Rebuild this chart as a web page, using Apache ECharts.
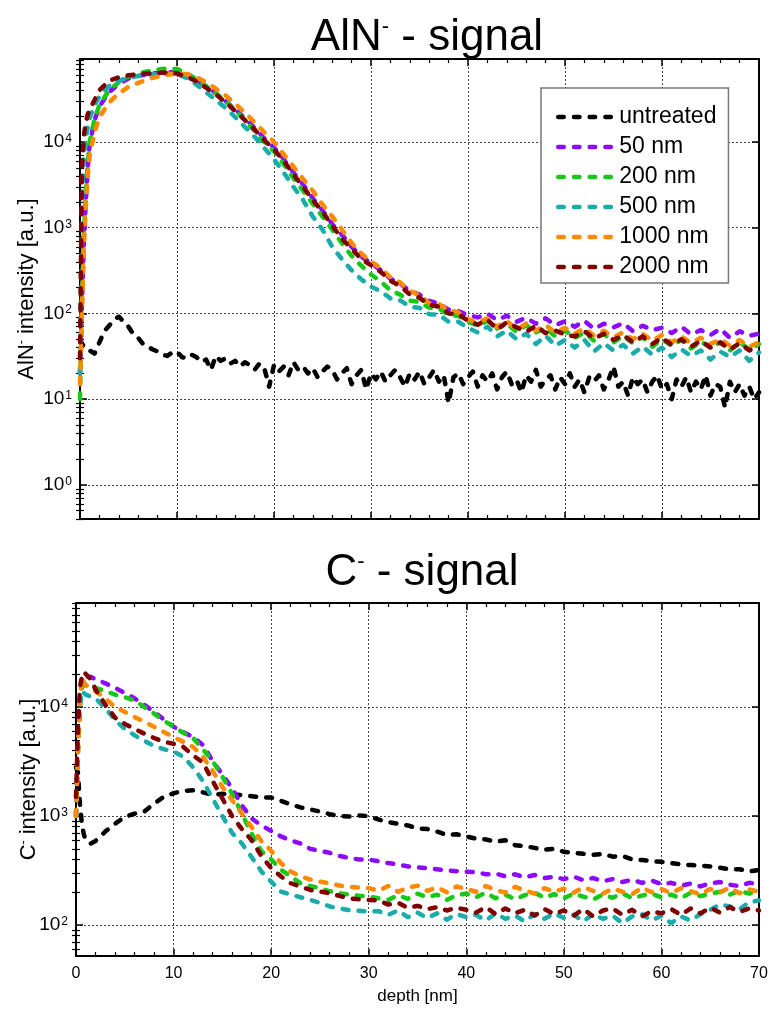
<!DOCTYPE html>
<html><head><meta charset="utf-8">
<script src="https://cdn.jsdelivr.net/npm/echarts@6/dist/echarts.min.js"></script>
<style>html,body{margin:0;padding:0;background:#fff}#c{width:772px;height:1009px}</style>
</head><body><div id="c"></div>
<script>
// ---------------- DATA ----------------
const seriesNames = ['untreated', '50 nm', '200 nm', '500 nm', '1000 nm', '2000 nm'];
const xTicks = [0, 10, 20, 30, 40, 50, 60, 70];

// shared depth grid [nm]
const depth = [0,0.2,0.4,0.6,0.8,1,1.5,2,
  3,4,5,6,7,8,9,10,
  11,12,13,14,15,16,17,18,19,20,
  21,22,23,24,25,26,27,28,29,30,
  31,32,33,34,35,36,37,38,39,40,
  41,42,43,44,45,46,47,48,49,50,
  51,52,53,54,55,56,57,58,59,60,
  61,62,63,64,65,66,67,68,69,70];

// fine depth grid for the noisy untreated AlN- signal
const depthFine = [0,0.5,1,1.5,2,2.5,3,3.5,4,4.5,5,5.5,6,6.5,7,7.5,8,8.5,9,9.5,
  10,10.5,11,11.5,12,12.5,13,13.5,14,14.5,15,15.5,16,16.5,17,17.5,18,18.5,19,19.5,
  20,20.5,21,21.5,22,22.5,23,23.5,24,24.5,25,25.5,26,26.5,27,27.5,28,28.5,29,29.5,
  30,30.5,31,31.5,32,32.5,33,33.5,34,34.5,35,35.5,36,36.5,37,37.5,38,38.5,39,39.5,
  40,40.5,41,41.5,42,42.5,43,43.5,44,44.5,45,45.5,46,46.5,47,47.5,48,48.5,49,49.5,
  50,50.5,51,51.5,52,52.5,53,53.5,54,54.5,55,55.5,56,56.5,57,57.5,58,58.5,59,59.5,
  60,60.5,61,61.5,62,62.5,63,63.5,64,64.5,65,65.5,66,66.5,67,67.5,68,68.5,69,69.5,70];

// AlN- signal
const alnUntreated = [49,39,37,34,46,62,72,84,92,80,70,57,52,44,41,38,36,33,32,35,
  36,31,30,33,31,27,29,22,32,28,30,26,28,24,27,25,22,26,23,14,
  25,21,24,19,27,22,24,20,23,18,21,24,22,17,20,23,15,19,22,13,
  20,17,21,16,19,22,18,14,20,17,21,15,18,22,16,19,9,18,20,15,
  18,21,14,19,16,20,13,18,21,15,17,12,19,16,22,14,17,19,13,18,
  15,20,14,17,12,18,16,19,13,17,24,14,16,11,18,15,17,12,16,19,
  13,15,10,17,14,18,12,16,13,19,11,15,14,8,16,12,15,11,14,10,12];
const aln50 = [20,130,700,2000,5000,9500,18000,26000,
  38000,48000,55000,59000,62000,64000,65000,65000,
  60000,53000,45000,37000,30000,24000,19000,14500,11000,8600,
  6300,4400,3200,2200,1600,1100,830,600,460,385,
  320,255,222,183,166,140,130,111,106,96,
  90,99,84,94,80,89,76,88,73,81,
  70,82,66,76,69,77,62,72,64,68,
  59,70,57,64,56,66,52,62,55,58];
const aln200 = [10,150,800,2500,5500,10000,18500,27000,
  40000,50000,58000,63000,67000,70000,72000,71000,
  64000,54000,45000,37000,30000,23500,18000,13500,10000,7800,
  5500,3800,2700,1900,1350,950,660,470,360,285,
  236,186,166,141,136,117,114,96,94,80,
  72,82,67,76,61,73,60,68,54,63,
  52,60,48,58,46,55,45,53,41,50,
  42,49,39,47,40,46,37,46,38,44];
const aln500 = [20,2000,7000,11000,15000,19000,27000,34000,
  45000,52000,56000,59000,61000,62000,63000,62000,
  56000,47000,38000,31000,25000,19500,15000,11500,8500,6300,
  4400,3000,2100,1350,950,600,430,320,250,205,
  182,150,142,120,116,98,97,80,80,68,
  60,70,54,63,50,58,44,55,42,49,
  40,49,36,45,37,43,34,41,33,40,
  31,38,32,37,29,36,31,37,28,35];
const aln1000 = [15,100,600,1800,4000,7000,13000,19500,
  29000,37000,44000,49000,54000,58000,61000,63000,
  62000,57000,50000,42000,35000,28000,22000,17000,13000,10000,
  7200,5200,3700,2700,1870,1360,950,665,500,405,
  336,264,230,182,165,132,128,110,103,86,
  78,88,70,82,65,76,63,73,60,68,
  58,67,55,63,53,60,50,58,48,56,
  46,54,45,52,44,50,42,49,41,46];
const aln2000 = [30,5000,12000,17000,21000,24000,31000,40000,
  52000,57000,60000,62000,63000,64000,65000,63000,
  58000,51000,43000,36000,29000,23000,18000,14000,10500,8200,
  6000,4200,3000,2100,1540,1060,740,570,430,365,
  306,240,210,166,152,126,120,100,98,82,
  74,85,65,79,69,61,72,59,63,57,
  54,62,51,58,49,56,46,54,44,52,
  43,50,41,48,40,46,38,45,37,42];

// C- signal
const cUntreated = [2800,2500,1300,850,680,600,560,590,
  720,850,980,1050,1100,1300,1500,1620,
  1700,1720,1650,1560,1600,1580,1560,1520,1480,1480,
  1380,1280,1200,1150,1100,1040,1000,990,1010,1000,
  930,880,850,820,770,760,720,670,680,650,
  620,610,580,600,540,530,510,490,500,470,
  460,450,440,450,424,430,400,395,385,380,
  370,360,355,350,345,335,325,325,310,320];
const c50 = [1000,5000,12000,17000,19000,19500,19000,18000,
  16500,15000,13500,12000,10500,9000,7700,6600,
  5900,5300,4500,3200,2400,1800,1250,950,820,730,
  650,600,560,500,480,460,430,413,400,398,
  385,370,360,345,338,333,325,318,312,308,
  306,292,296,280,292,274,288,270,276,264,
  278,258,270,252,264,248,260,244,256,238,
  244,230,240,226,242,248,234,228,244,238];
const c200 = [1000,4000,10000,15000,16000,16000,15500,15000,
  14000,13000,12300,11500,10000,8700,7500,6600,
  5800,5200,4100,3200,2300,1600,1050,690,475,400,
  322,280,242,228,218,204,196,190,186,183,
  176,170,188,174,194,180,190,170,188,194,
  180,198,176,190,172,188,198,178,192,176,
  194,182,172,190,178,196,176,186,194,180,
  190,176,198,184,194,202,190,206,194,208];
const c500 = [1000,4000,10000,14000,13500,13000,12500,12000,
  9800,7600,6300,5500,4900,4400,4100,3900,
  3500,2800,2100,1450,1000,700,560,420,310,250,
  203,190,180,170,160,148,142,137,135,133,
  134,124,136,118,130,116,128,112,126,118,
  124,110,128,114,122,108,126,114,128,116,
  124,108,126,114,122,104,120,126,110,122,
  104,120,110,126,138,154,148,140,162,168];
const c1000 = [1000,3500,12000,19000,17000,16000,14500,14000,
  12000,10000,9000,8100,7300,6600,5900,5300,
  4800,4300,3500,2600,1850,1400,1050,790,590,480,
  370,310,280,262,250,242,230,225,220,218,
  206,228,202,220,230,206,222,200,226,214,
  202,228,210,198,224,208,194,218,202,216,
  198,222,206,194,216,202,192,220,200,214,
  196,218,204,192,214,200,220,196,212,202];
const c2000 = [1500,6000,15000,19000,21000,21500,18000,14500,
  10500,8000,7000,6300,5700,5200,4800,4600,
  4300,3600,3100,2100,1450,1000,760,600,430,333,
  280,242,225,210,203,196,185,176,172,170,
  168,154,160,144,150,140,146,136,144,138,
  130,146,126,142,128,138,122,140,126,136,
  122,140,120,136,142,124,138,120,134,128,
  140,124,142,128,144,130,146,132,142,136];

// ---------------- CHART ----------------
const colors = ['#000000', '#8c0aff', '#17c817', '#1aabab', '#ff8a00', '#800000'];
const FONT = "'Liberation Sans',Arial,sans-serif";

const grids = [
  {left: 80, top: 59, width: 679, height: 460},
  {left: 76, top: 603, width: 683, height: 353}
];
const yRanges = [[0.4, 93000], [52, 90000]];
const yNameGaps = [42, 36];

function pairs(xs, ys) { return xs.map((x, i) => [x, ys[i]]); }

function isPow10(v) {
  const l = Math.log10(v);
  return Math.abs(l - Math.round(l)) < 1e-6;
}

const black = '#000';
function xAxes(gi, showLabels) {
  const base = {type: 'value', gridIndex: gi, min: 0, max: 70, interval: 10};
  const tick = {show: true, inside: true, length: 7, lineStyle: {color: black, width: 1.5}};
  const minor = {show: true, splitNumber: 5, length: 4, lineStyle: {color: black, width: 1.2}};
  const line = {show: true, onZero: false, lineStyle: {color: black, width: 2}};
  return [
    Object.assign({}, base, {
      position: 'bottom', axisLine: line, axisTick: tick, minorTick: minor,
      splitLine: {show: true, lineStyle: {color: '#444', type: [2, 2], width: 1}},
      axisLabel: {show: showLabels, color: black, fontSize: 16, fontFamily: FONT, margin: 10,
        customValues: xTicks},
      name: showLabels ? 'depth [nm]' : '', nameLocation: 'middle', nameGap: 32,
      nameMoveOverlap: false,
      nameTextStyle: {color: black, fontSize: 17, fontFamily: FONT}
    }),
    Object.assign({}, base, {
      position: 'top', axisLine: line, axisTick: tick, minorTick: minor,
      splitLine: {show: false}, axisLabel: {show: false}
    })
  ];
}

function yAxes(gi, lo, hi, nameRich) {
  const base = {type: 'log', logBase: 10, gridIndex: gi, min: lo, max: hi};
  const majors = [], minors = [];
  for (let e = -1; e <= 5; e++) {
    for (let m = 1; m <= 9; m++) {
      const v = m * Math.pow(10, e);
      if (v >= lo && v <= hi) (m === 1 ? majors : minors).push(v);
    }
  }
  const line = {show: true, onZero: false, lineStyle: {color: black, width: 2}};
  const majTick = {show: true, inside: true, length: 7, customValues: majors, lineStyle: {color: black, width: 1.5}};
  const minTick = {show: true, inside: true, length: 4, customValues: minors, lineStyle: {color: black, width: 1.2}};
  return [
    Object.assign({}, base, {
      position: 'left', axisLine: line, axisTick: majTick,
      splitLine: {show: true, lineStyle: {color: '#444', type: [2, 2], width: 1}},
      axisLabel: {
        color: black, margin: 8, showMinLabel: false, showMaxLabel: false,
        formatter: function (v) {
          if (!isPow10(v)) return '';
          return '{b|10}{e|' + Math.round(Math.log10(v)) + '}';
        },
        rich: {
          b: {fontSize: 19, fontFamily: FONT, color: black},
          e: {fontSize: 12, fontFamily: FONT, color: black, verticalAlign: 'top', padding: [0, 0, 0, 1]}
        }
      },
      name: nameRich, nameLocation: 'middle', nameGap: yNameGaps[gi], nameRotate: 90,
      nameMoveOverlap: false,
      nameTextStyle: {
        rich: {
          a: {fontSize: 22, fontFamily: FONT, color: black},
          s: {fontSize: 12, fontFamily: FONT, color: black, verticalAlign: 'top'}
        }
      }
    }),
    Object.assign({}, base, {
      position: 'left', axisLine: {show: false}, axisTick: minTick,
      axisLabel: {show: false}, splitLine: {show: false}
    }),
    Object.assign({}, base, {
      position: 'right', axisLine: line, axisTick: majTick,
      axisLabel: {show: false}, splitLine: {show: false}
    }),
    Object.assign({}, base, {
      position: 'right', axisLine: {show: false}, axisTick: minTick,
      axisLabel: {show: false}, splitLine: {show: false}
    })
  ];
}

const alnData = [[depthFine, alnUntreated], [depth, aln50], [depth, aln200], [depth, aln500], [depth, aln1000], [depth, aln2000]];
const cData = [[depth, cUntreated], [depth, c50], [depth, c200], [depth, c500], [depth, c1000], [depth, c2000]];

function makeSeries(sets, xi, yi) {
  return sets.map((s, i) => ({
    name: seriesNames[i], type: 'line', xAxisIndex: xi, yAxisIndex: yi,
    data: pairs(s[0], s[1]), symbol: 'none', showSymbol: false, smooth: false, clip: true,
    lineStyle: {color: colors[i], width: 4.5, type: [6, 10], cap: 'round', join: 'round'},
    itemStyle: {color: colors[i]},
    emphasis: {disabled: true}
  }));
}

const titleRich = {
  a: {fontSize: 44, fontFamily: FONT, fill: black},
  s: {fontSize: 22, fontFamily: FONT, fill: black, verticalAlign: 'top'}
};

const option = {
  backgroundColor: '#fff',
  animation: false,
  grid: grids,
  xAxis: xAxes(0, false).concat(xAxes(1, true)),
  yAxis: yAxes(0, yRanges[0][0], yRanges[0][1], '{a|AlN}{s|-}{a| intensity [a.u.]}')
    .concat(yAxes(1, yRanges[1][0], yRanges[1][1], '{a|C}{s|-}{a| intensity [a.u.]}')),
  legend: {
    data: seriesNames, orient: 'vertical', left: 541, top: 88,
    backgroundColor: '#fff', borderColor: '#777', borderWidth: 1.5, borderRadius: 0,
    padding: [17, 12, 4, 15], itemWidth: 56, itemHeight: 14, itemGap: 6,
    itemStyle: {color: 'rgba(0,0,0,0)', borderWidth: 0, opacity: 0},
    lineStyle: {width: 4.5, type: [5.5, 10.2], cap: 'round'},
    textStyle: {fontSize: 23, fontFamily: FONT, color: black, lineHeight: 24},
    selectedMode: false
  },
  graphic: [
    {type: 'text', x: 427, y: 38, z: 100, style: {text: '{a|AlN}{s|-}{a| - signal}', rich: titleRich, align: 'center', verticalAlign: 'middle'}},
    {type: 'text', x: 422, y: 573, z: 100, style: {text: '{a|C}{s|-}{a| - signal}', rich: titleRich, align: 'center', verticalAlign: 'middle'}}
  ],
  series: makeSeries(alnData, 0, 0).concat(makeSeries(cData, 2, 4))
};

const chart = echarts.init(document.getElementById('c'), null, {renderer: 'canvas'});
chart.setOption(option);
</script>
</body></html>
